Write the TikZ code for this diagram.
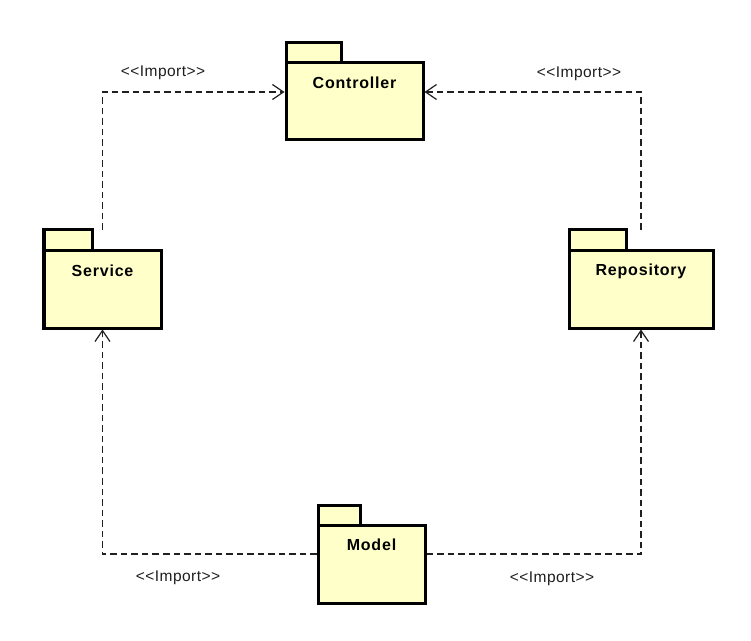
\documentclass[tikz,border=0pt]{standalone}
\usepackage{fontspec}
\setmainfont{Liberation Sans}
\newfontfamily\pkgfont[LetterSpace=5]{Liberation Sans}
\newfontfamily\stereofont[LetterSpace=3]{Liberation Sans}
\usetikzlibrary{arrows.meta,positioning}

\definecolor{pkgfill}{HTML}{FFFFCA}
\definecolor{depline}{HTML}{202020}

\tikzset{
  pkgbody/.style={draw=black, fill=pkgfill, line width=3bp, inner sep=0pt},
  pkgtab/.style={draw=black, fill=pkgfill, line width=3bp, inner sep=0pt, outer sep=0pt,
                 minimum height=20bp, anchor=south west},
  pkgname/.style={font=\pkgfont\bfseries\fontsize{16bp}{18bp}\selectfont, inner sep=0pt},
  stereo/.style={font=\stereofont\fontsize{15.5bp}{17bp}\selectfont, text=black!88, inner sep=0pt},
  import/.style={draw=depline, line width=1.2bp, dash pattern=on 6.5bp off 4bp,
                 -{Straight Barb[length=11bp,width=15bp,line width=1.2bp]}},
  tabat/.style={shift={(1.5bp,-1.5bp)}}
}

\begin{document}
\begin{tikzpicture}[x=1bp,y=-1bp]
\useasboundingbox[fill=white] (0,0) rectangle (751,641);

% package bodies
\node[pkgbody, minimum width=137bp, minimum height=77bp] (ctrl) at (354.5,101.5) {};
\node[pkgbody, minimum width=117bp, minimum height=78bp] (svc)  at (102.5,289) {};
\node[pkgbody, minimum width=144bp, minimum height=78bp] (repo) at (641,289) {};
\node[pkgbody, minimum width=107bp, minimum height=78bp] (mdl)  at (371.5,564) {};

% package tabs, sitting on the top-left corner of each body
\node[pkgtab, minimum width=55bp] (ctrltab) at ([tabat]ctrl.north west) {};
\node[pkgtab, minimum width=48bp] (svctab)  at ([tabat]svc.north west) {};
\node[pkgtab, minimum width=57bp] (repotab) at ([tabat]repo.north west) {};
\node[pkgtab, minimum width=42bp] (mdltab)  at ([tabat]mdl.north west) {};

% package names
\node[pkgname] (ctrlname) at ([yshift=-21.5bp]ctrl.north) {Controller};
\node[pkgname] (svcname)  at ([yshift=-22.5bp]svc.north)  {Service};
\node[pkgname] (reponame) at ([yshift=-22.5bp]repo.north) {Repository};
\node[pkgname] (mdlname)  at ([yshift=-21.5bp]mdl.north)  {Model};

% routing levels of the dependency lines
\coordinate (toprow) at (0,92);
\coordinate (botrow) at (0,554);

% import dependencies
\draw[import] (svc.north |- svctab.north) |- (ctrl.west |- toprow);
\draw[import] (repo.north |- repotab.north) |- (ctrl.east |- toprow);
\draw[import] (mdl.west |- botrow) -| (svc.south);
\draw[import] (mdl.east |- botrow) -| (repo.south);

% stereotypes
\node[stereo] (imp1) at (163,73)  {<<Import>>};
\node[stereo] (imp2) at (579,74)  {<<Import>>};
\node[stereo] (imp3) at (178,578) {<<Import>>};
\node[stereo] (imp4) at (552,579) {<<Import>>};
\end{tikzpicture}
\end{document}
